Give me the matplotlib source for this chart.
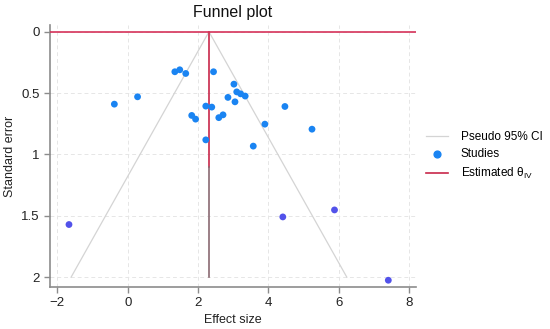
import matplotlib.pyplot as plt
import numpy as np

plt.rcParams['font.family'] = ['Liberation Sans', 'DejaVu Sans']

# study effect sizes and standard errors
effect = [-0.38, 0.28, 1.34, 1.48, 1.65, 2.44, 3.02, 3.10, 3.21, 3.34, 2.85,
          3.05, 2.22, 2.39, 1.82, 1.93, 2.59, 2.71, 2.22, 3.90, 3.57, 4.47,
          5.24, -1.67, 4.41, 5.88, 7.41]
se = [0.59, 0.53, 0.326, 0.31, 0.34, 0.326, 0.427, 0.49, 0.506, 0.524, 0.535,
      0.571, 0.606, 0.614, 0.682, 0.712, 0.70, 0.677, 0.881, 0.753, 0.932, 0.609,
      0.794, 1.571, 1.509, 1.452, 2.025]
theta = 2.31
se_max = 2.0

x_ticks = [-2, 0, 2, 4, 6, 8]
y_ticks = [0, 0.5, 1, 1.5, 2]
y_labels = ['0', '0.5', '1', '1.5', '2']

fig = plt.figure(figsize=(5.5, 3.29), dpi=100)
ax = fig.add_axes([0.0909, 0.1277, 0.665, 0.7963])

# pseudo 95% CI
s = np.array([0, se_max])
ax.plot(theta - 1.96 * s, s, color='#d4d4d4', lw=0.9, label='Pseudo 95% CI', zorder=2)
ax.plot(theta + 1.96 * s, s, color='#d4d4d4', lw=0.9, zorder=2)

# studies (larger SE drawn a bit more violet, as in the picture)
cols = ['#5252ea' if v > 1.2 else '#1a84f2' for v in se]
ax.scatter(effect, se, s=24, c=cols, edgecolors='none', zorder=4)
ax.scatter([], [], s=24, c='#1a84f2', label='Studies')

# estimated theta
ax.plot([theta, theta], [0, 1.1], color='#c8284a', lw=1.2,
        label='Estimated θ$_\\mathregular{IV}$', zorder=3)
ax.plot([theta, theta], [1.1, se_max], color='#8a6a72', lw=1.2, zorder=3)
ax.axhline(0, color='#d6325a', lw=1.2, zorder=3)

ax.set_xlim(-2.21, 8.19)
ax.set_ylim(2.08, -0.055)
ax.set_xticks(x_ticks)
ax.set_yticks(y_ticks)
ax.set_yticklabels(y_labels)
ax.grid(True, ls=(0, (4, 3)), color='#e6e6e6', lw=0.7)
ax.set_axisbelow(True)

for side in ['top', 'right']:
    ax.spines[side].set_visible(False)
for side in ['left', 'bottom']:
    ax.spines[side].set_color('#8c8c8c')
    ax.spines[side].set_linewidth(1.2)
ax.tick_params(colors='#8c8c8c', labelcolor='#222222', labelsize=9.5, length=4, width=1)

ax.set_xlabel('Effect size', fontsize=9, color='#222222', labelpad=3)
ax.set_ylabel('Standard error', fontsize=9, color='#222222', labelpad=4)
ax.set_title('Funnel plot', fontsize=11.5, color='#111111', pad=6)

ax.legend(loc='center left', bbox_to_anchor=(1.0, 0.5), frameon=False, fontsize=8.5,
          handlelength=1.8, handletextpad=1.1, labelspacing=0.45)

plt.savefig('out.png', dpi=100)
